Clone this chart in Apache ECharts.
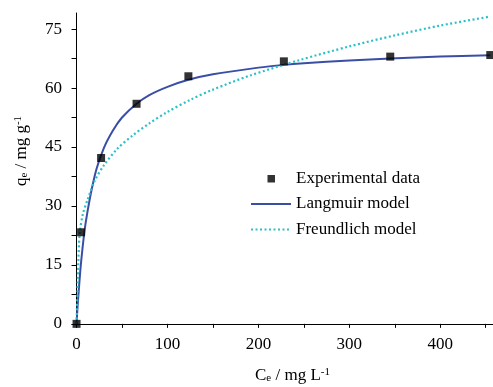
<!DOCTYPE html>
<html><head><meta charset="utf-8">
<script src="https://cdn.jsdelivr.net/npm/echarts@6/dist/echarts.min.js"></script>
<style>html,body{margin:0;padding:0;background:#fff}#c{width:493px;height:387px}</style>
</head><body><div id="c"></div>
<script>
const expX = [0, 5, 27, 66, 123, 228, 345, 455];
const expY = [0, 23.3, 42.2, 56.0, 63.0, 66.8, 68.0, 68.4];
const langX = [0, 1, 2, 5, 10, 20, 30, 40, 50, 66, 80, 100, 123, 150, 200, 228, 250, 300, 345, 400, 455];
const langY = [0, 4, 7.2, 15.7, 25.7, 37.7, 44.7, 49.2, 52.5, 56.0, 58.2, 60.3, 62.1, 63.5, 65.2, 65.9, 66.3, 67.0, 67.5, 68.0, 68.35];
const freX = [0, 1, 2, 3.5, 7, 12, 20, 30, 45, 62, 80, 99, 125, 150, 191, 245, 300, 350, 400, 455];
const freY = [0, 8, 16, 23, 28, 31.5, 36.4, 40.3, 44.6, 48.0, 51.0, 53.8, 57.0, 59.6, 63.2, 67.1, 70.6, 73.4, 75.9, 78.2];
const xTicks = [0, 50, 100, 150, 200, 250, 300, 350, 400, 450];
const xLabels = [0, 100, 200, 300, 400];
const yTicks = [0, 7.5, 15, 22.5, 30, 37.5, 45, 52.5, 60, 67.5, 75];
const yLabels = [0, 15, 30, 45, 60, 75];
const names = ['Experimental data', 'Langmuir model', 'Freundlich model'];

const zip = (a, b) => a.map((v, i) => [v, b[i]]);
const font = 'Liberation Serif';
const chart = echarts.init(document.getElementById('c'));
const rich = {
  a: {fontFamily: font, fontSize: 17, color: '#000'},
  sub: {fontFamily: font, fontSize: 11, color: '#000', verticalAlign: 'bottom', lineHeight: 10, padding:[6,0,0,0]},
  sup: {fontFamily: font, fontSize: 11, color: '#000', verticalAlign: 'top', lineHeight: 10, padding:[0,0,6,0]}
};
chart.setOption({
  backgroundColor: '#fff',
  animation: false,
  grid: {left: 72, right: 0, top: 13, bottom: 60, containLabel: false, outerBoundsMode: 'none'},
  xAxis: {
    type: 'value', min: -5, max: 458,
    splitLine: {show: false},
    axisLine: {lineStyle: {color: '#000', width: 1}},
    axisTick: {customValues: xTicks, length: 4, inside: false, lineStyle: {color: '#000'}},
    axisLabel: {customValues: xLabels, margin: 9, fontFamily: font, fontSize: 17, color: '#000'},
    name: '{a|C}{sub|e}{a| / mg L}{sup|-1}',
    nameLocation: 'middle', nameGap: 40,
    nameTextStyle: {rich: rich, padding: [0, 0, 0, 20]}
  },
  yAxis: {
    type: 'value', min: -0.8, max: 79.1,
    splitLine: {show: false},
    axisLine: {lineStyle: {color: '#000', width: 1}},
    axisTick: {customValues: yTicks, length: 5, inside: false, lineStyle: {color: '#000'}},
    axisLabel: {customValues: yLabels, margin: 10, fontFamily: font, fontSize: 17, color: '#000'},
    name: '{a|q}{sub|e}{a| / mg g}{sup|-1}',
    nameLocation: 'middle', nameGap: 42, nameRotate: 90,
    nameTextStyle: {rich: rich, padding: [0, 0, 0, 38]}
  },
  legend: {
    orient: 'vertical', left: 250, top: 170, padding: 0,
    itemWidth: 40, itemHeight: 14, itemGap: 8.5,
    textStyle: {fontFamily: font, fontSize: 17, color: '#000'},
    data: [
      {name: names[0], icon: 'path://M0,0h0.05v0.05h-0.05zM40,14h-0.05v-0.05h0.05zM16.5,3.5h7.5v7.5h-7.5z', itemStyle: {color: '#000'}},
      {name: names[1], itemStyle: {opacity: 0}},
      {name: names[2], itemStyle: {opacity: 0}}
    ]
  },
  series: [
    {name: names[1], type: 'line', data: zip(langX, langY), smooth: 0.3, showSymbol: false, symbol: 'none',
     lineStyle: {color: '#3a4ea6', width: 2}, itemStyle: {color: '#3a4ea6'}, z: 2},
    {name: names[2], type: 'line', data: zip(freX, freY), smooth: 0.3, showSymbol: false, symbol: 'none',
     lineStyle: {color: '#2cc0c8', width: 2.2, type: [2, 2.5]}, itemStyle: {color: '#2cc0c8'}, z: 3},
    {name: names[0], type: 'scatter', data: zip(expX, expY), symbol: 'rect', symbolSize: 8,
     itemStyle: {color: '#000'}, z: 4}
  ]
});
</script></body></html>
